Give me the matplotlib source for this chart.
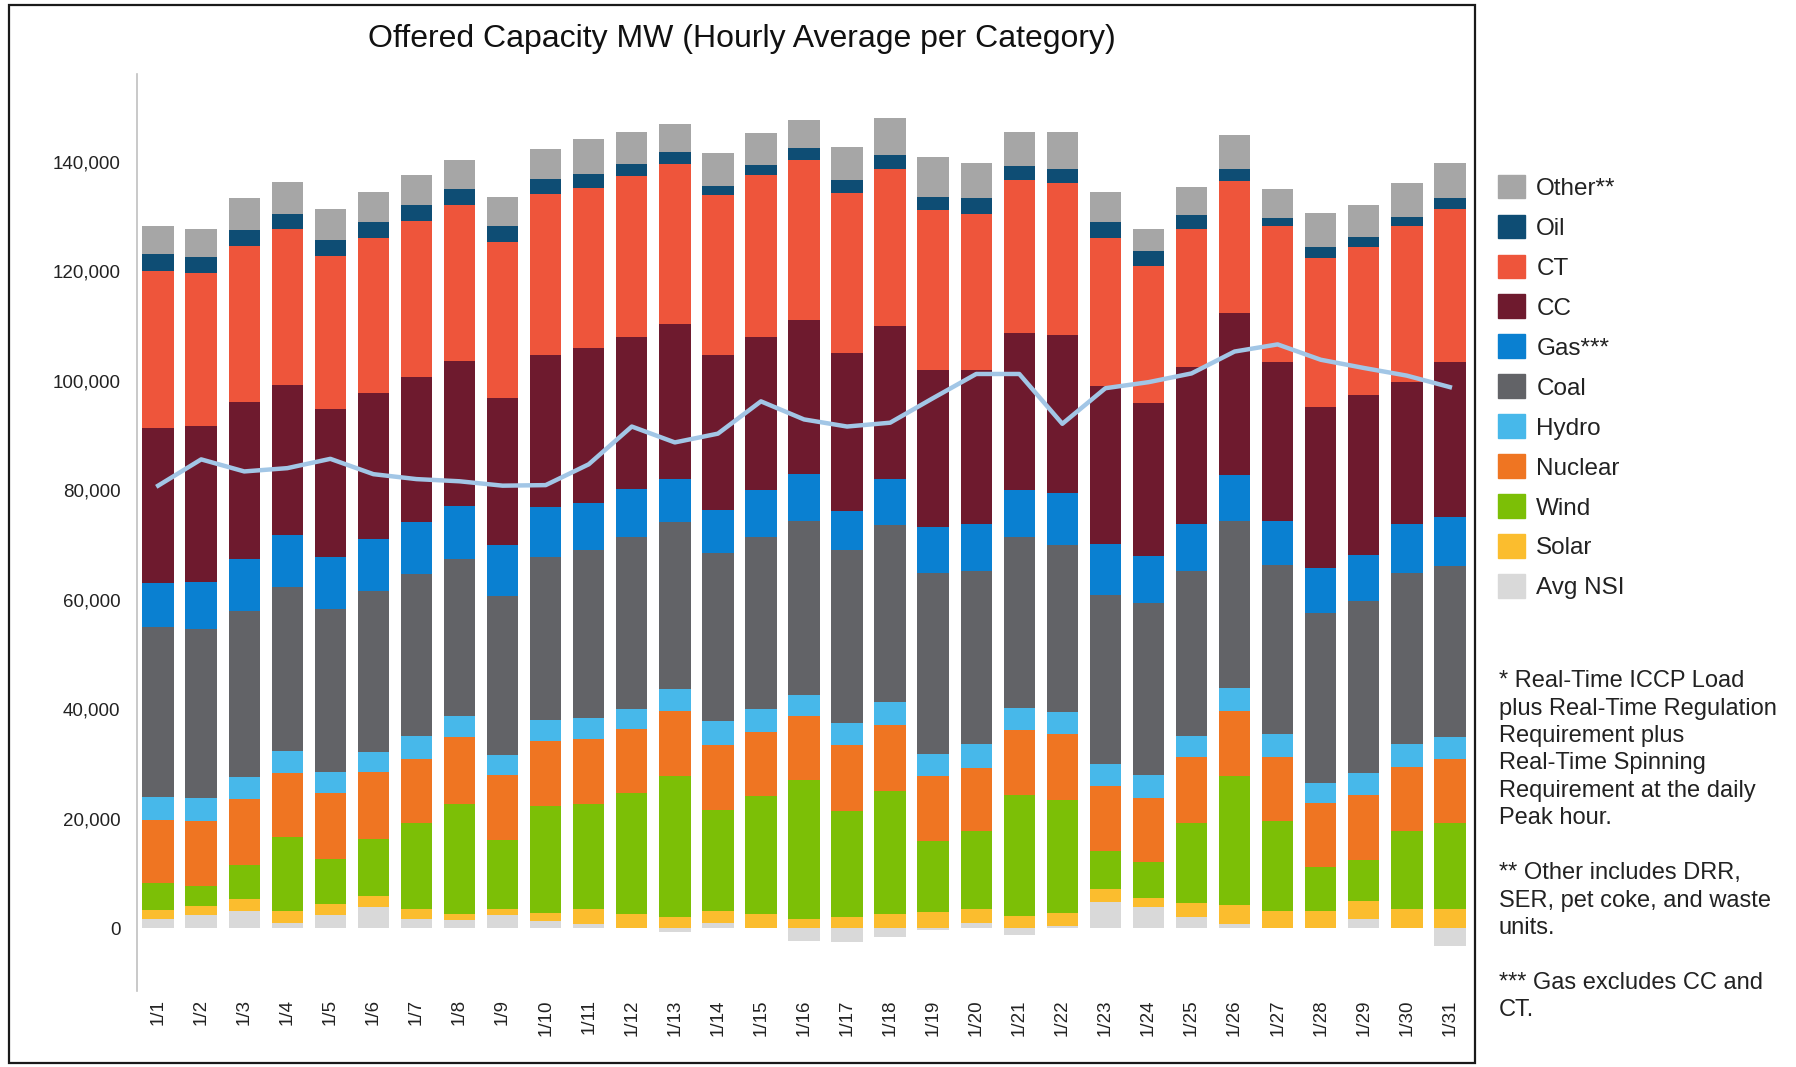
import matplotlib
matplotlib.use("Agg")
import matplotlib.pyplot as plt
from matplotlib.patches import Rectangle, Patch

plt.rcParams['font.family'] = ['Liberation Sans', 'DejaVu Sans']

# dias de janeiro
dias = [f"1/{d}" for d in range(1, 32)]

# MW medios por hora em cada categoria
avg_nsi = [1600, 2400, 3200, 900, 2300, 3900, 1700, 1500, 2300, 1300, 800, 0, -800, 1000, 0, -2300,
           -2600, -1700, -300, 1000, -1300, 300, 4800, 3800, 2100, 800, 0, 0, 1700, 0, -3300]
solar = [1700, 1550, 2150, 2200, 2150, 1950, 1850, 1150, 1250, 1500, 2600, 2600, 2000, 2200, 2600, 1700,
         2100, 2600, 2900, 2400, 2200, 2500, 2400, 1700, 2500, 3500, 3100, 3100, 3200, 3400, 3400]
wind = [4900, 3650, 6200, 13600, 8150, 10500, 15600, 20100, 12550, 19500, 19200, 22000, 25700, 18400, 21500, 25300,
        19300, 22500, 13000, 14300, 22100, 20500, 6900, 6500, 14600, 23400, 16400, 8000, 7600, 14300, 15800]
nuclear = [11600, 12000, 12000, 11700, 12000, 12100, 11800, 12100, 11900, 11900, 12000, 11800, 12000, 11800, 11800, 11700,
           12100, 12000, 11800, 11500, 11800, 12100, 11800, 11800, 12100, 12000, 11800, 11800, 11800, 11700, 11600]
hydro = [4100, 4100, 4100, 3900, 3900, 3700, 4100, 3900, 3600, 3800, 3700, 3600, 3900, 4500, 4100, 3900,
         3900, 4100, 4100, 4400, 4100, 4100, 4100, 4100, 3800, 4100, 4100, 3600, 4100, 4200, 4100]
coal = [31000, 30900, 30300, 30000, 29700, 29400, 29700, 28700, 29100, 29700, 30700, 31500, 30500, 30600, 31500, 31800,
        31600, 32400, 33100, 31700, 31300, 30500, 30800, 31400, 30200, 30600, 31000, 31000, 31300, 31300, 31300]
gas = [8200, 8600, 9500, 9400, 9600, 9600, 9400, 9600, 9200, 9200, 8700, 8700, 8000, 7900, 8500, 8500,
       7100, 8400, 8400, 8500, 8500, 9500, 9300, 8600, 8500, 8400, 8000, 8200, 8500, 8900, 8900]
cc = [28200, 28500, 28600, 27500, 27000, 26500, 26500, 26500, 27000, 27700, 28200, 27700, 28200, 28200, 27900, 28100,
      29000, 27900, 28700, 28200, 28700, 28900, 28900, 28000, 28700, 29500, 29000, 29500, 29200, 26000, 28200]
ct = [28700, 28000, 28600, 28400, 27900, 28400, 28500, 28500, 28400, 29400, 29200, 29500, 29200, 29300, 29700, 29200,
      29100, 28700, 29200, 28400, 27900, 27600, 27000, 25100, 25100, 24100, 24800, 27100, 27000, 28400, 28000]
oil = [3100, 2900, 2900, 2800, 2900, 2900, 2900, 3000, 2900, 2900, 2600, 2100, 2300, 1700, 1800, 2200,
       2400, 2600, 2400, 2900, 2600, 2700, 3000, 2600, 2600, 2300, 1500, 2100, 1900, 1700, 2000]
other = [5200, 5000, 5800, 5900, 5800, 5400, 5500, 5200, 5300, 5400, 6400, 5900, 5100, 5900, 5900, 5100,
         6100, 6700, 7200, 6400, 6200, 6700, 5400, 4100, 5100, 6200, 5300, 6200, 5700, 6200, 6400]

# carga de pico (ICCP + regulacao + spinning)
carga_pico = [80800, 85600, 83400, 84000, 85700, 82900, 82000, 81600, 80800, 80900, 84700, 91600, 88700, 90300, 96200, 92900,
              91600, 92300, 96800, 101200, 101200, 92100, 98600, 99700, 101300, 105300, 106600, 103800, 102300, 100900, 98800]

# empilhadas de baixo para cima (sem o NSI)
categorias = [
    ('Solar', solar, '#fbbd2e'),
    ('Wind', wind, '#7cbf06'),
    ('Nuclear', nuclear, '#ef7522'),
    ('Hydro', hydro, '#47b8ea'),
    ('Coal', coal, '#626367'),
    ('Gas***', gas, '#0a80d1'),
    ('CC', cc, '#6e1a2e'),
    ('CT', ct, '#ee553b'),
    ('Oil', oil, '#0e4d74'),
    ('Other**', other, '#a6a6a6'),
]
cor_nsi = '#d9d9d9'

fig = plt.figure(figsize=(17.96, 10.67), dpi=100)
ax = fig.add_axes([0.0763, 0.0712, 0.7444, 0.859])

x = list(range(len(dias)))
largura = 0.73

# NSI negativo fica abaixo do zero, o resto comeca em max(nsi, 0)
ax.bar(x, avg_nsi, largura, color=cor_nsi, zorder=2)
base = [max(v, 0) for v in avg_nsi]
for nome, valores, cor in categorias:
    ax.bar(x, valores, largura, bottom=base, color=cor, zorder=2)
    base = [b + v for b, v in zip(base, valores)]

ax.plot(x, carga_pico, color='#a2c6e6', lw=3.2, zorder=5)

ax.set_xlim(-0.49, 30.56)
ax.set_ylim(-11500, 155900)
ax.set_yticks(range(0, 140001, 20000))
ax.set_yticklabels([f"{v:,}" for v in range(0, 140001, 20000)])
ax.set_xticks(x)
ax.set_xticklabels(dias, rotation=90)
ax.tick_params(axis='y', length=0, pad=12, labelsize=13.5, labelcolor='#222222')
ax.tick_params(axis='x', length=0, pad=6, labelsize=13.5, labelcolor='#222222')
for lado in ['top', 'right', 'bottom']:
    ax.spines[lado].set_visible(False)
ax.spines['left'].set_color('#c0c0c0')
ax.spines['left'].set_linewidth(1.2)

fig.text(0.413, 0.963, 'Offered Capacity MW (Hourly Average per Category)',
         fontsize=23, ha='center', va='center', color='#111111')

# legenda na ordem de cima para baixo
handles = [Patch(color=cor, label=nome) for nome, valores, cor in reversed(categorias)]
handles.append(Patch(color=cor_nsi, label='Avg NSI'))
fig.legend(handles=handles, loc='upper left', bbox_to_anchor=(0.834, 0.8364),
           frameon=False, fontsize=17.5, handlelength=1.13, handleheight=1.13,
           labelspacing=0.61, handletextpad=0.45, borderpad=0, borderaxespad=0,
           labelcolor='#222222')

notas = ("* Real-Time ICCP Load\nplus Real-Time Regulation\nRequirement plus\n"
         "Real-Time Spinning\nRequirement at the daily\nPeak hour.\n\n"
         "** Other includes DRR,\nSER, pet coke, and waste\nunits.\n\n"
         "*** Gas excludes CC and\nCT.")
fig.text(0.8345, 0.372, notas, fontsize=17, ha='left', va='top',
         linespacing=1.32, color='#222222')

# moldura em volta do grafico
fig.add_artist(Rectangle((0.005, 0.004), 0.816, 0.9915, transform=fig.transFigure,
                         fill=False, edgecolor='#1a1a1a', lw=1.6))

fig.savefig('out.png', dpi=100, facecolor='white')
